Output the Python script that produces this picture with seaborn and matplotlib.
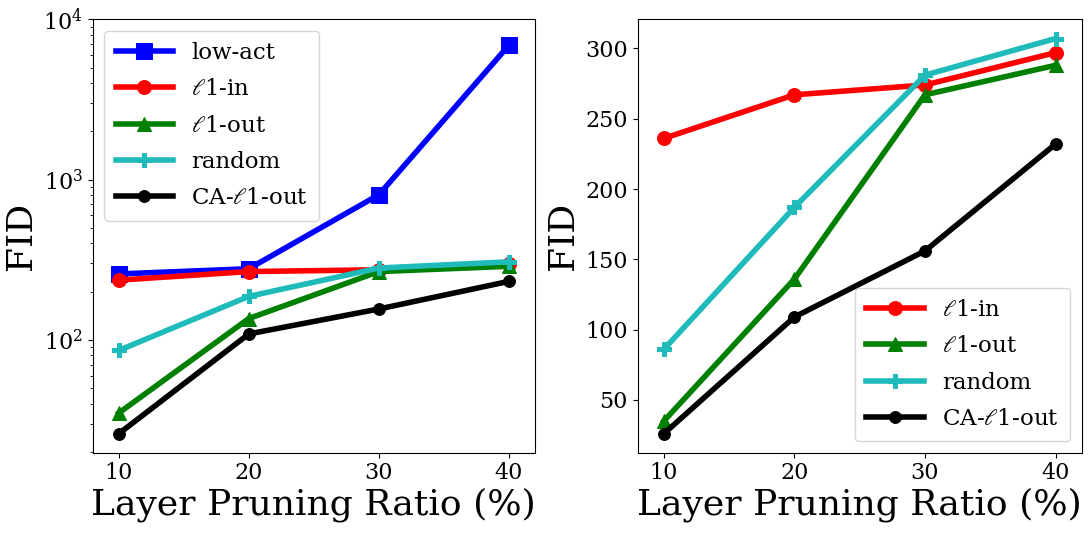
import numpy as np
import matplotlib
matplotlib.use('Agg')
import matplotlib.pyplot as plt
import seaborn as sns

# data
ratios = [10, 20, 30, 40]
low_act = [258, 278, 805, 6900]
l1_in = [236, 267, 274, 297]
l1_out = [35, 136, 267, 288]
random_prune = [86, 187, 281, 307]
ca_l1_out = [26, 109, 156, 232]

plt.rcParams['font.family'] = ['DejaVu Serif']
plt.rcParams['mathtext.fontset'] = 'dejavuserif'

W, H = 1092, 537
fig = plt.figure(figsize=(W / 100, H / 100), dpi=100)
ax1 = fig.add_axes([92.7 / W, 1 - 452.7 / H, 442.3 / W, 433.4 / H])
ax2 = fig.add_axes([637.7 / W, 1 - 452.7 / H, 444 / W, 433.4 / H])

# (label, values, color, marker, markersize)
series = [
    ('low-act', low_act, 'b', 's', 11.5),
    (r'$\ell$1-in', l1_in, 'r', 'o', 10),
    (r'$\ell$1-out', l1_out, 'g', '^', 10),
    ('random', random_prune, '#1fbaba', 'P', 10),
    (r'CA-$\ell$1-out', ca_l1_out, 'k', 'o', 8.5),
]

for ax, skip in [(ax1, False), (ax2, True)]:
    for name, vals, col, mk, ms in series:
        if skip and name == 'low-act':
            continue
        sns.lineplot(x=ratios, y=vals, ax=ax, color=col, marker=mk, markersize=ms,
                     markeredgecolor=col, linewidth=4, label=name)
    ax.set_xlim(8, 42)
    ax.set_xticks(ratios)
    ax.set_xlabel('Layer Pruning Ratio (%)', fontsize=26, labelpad=2)
    ax.set_ylabel('FID', fontsize=26, labelpad=4)
    ax.tick_params(labelsize=16)

ax1.set_yscale('log')
ax1.set_ylim(19.8, 1e4)
ax1.legend(loc='upper left', fontsize=16.5, handlelength=2.5, labelspacing=0.62,
           borderpad=0.5)

ax2.set_ylim(12.5, 320.7)
ax2.set_yticks([50, 100, 150, 200, 250, 300])
ax2.legend(loc='lower right', fontsize=16.5, handlelength=2.5, labelspacing=0.62,
           borderpad=0.5)

plt.savefig('out.png', dpi=100)
plt.close()
